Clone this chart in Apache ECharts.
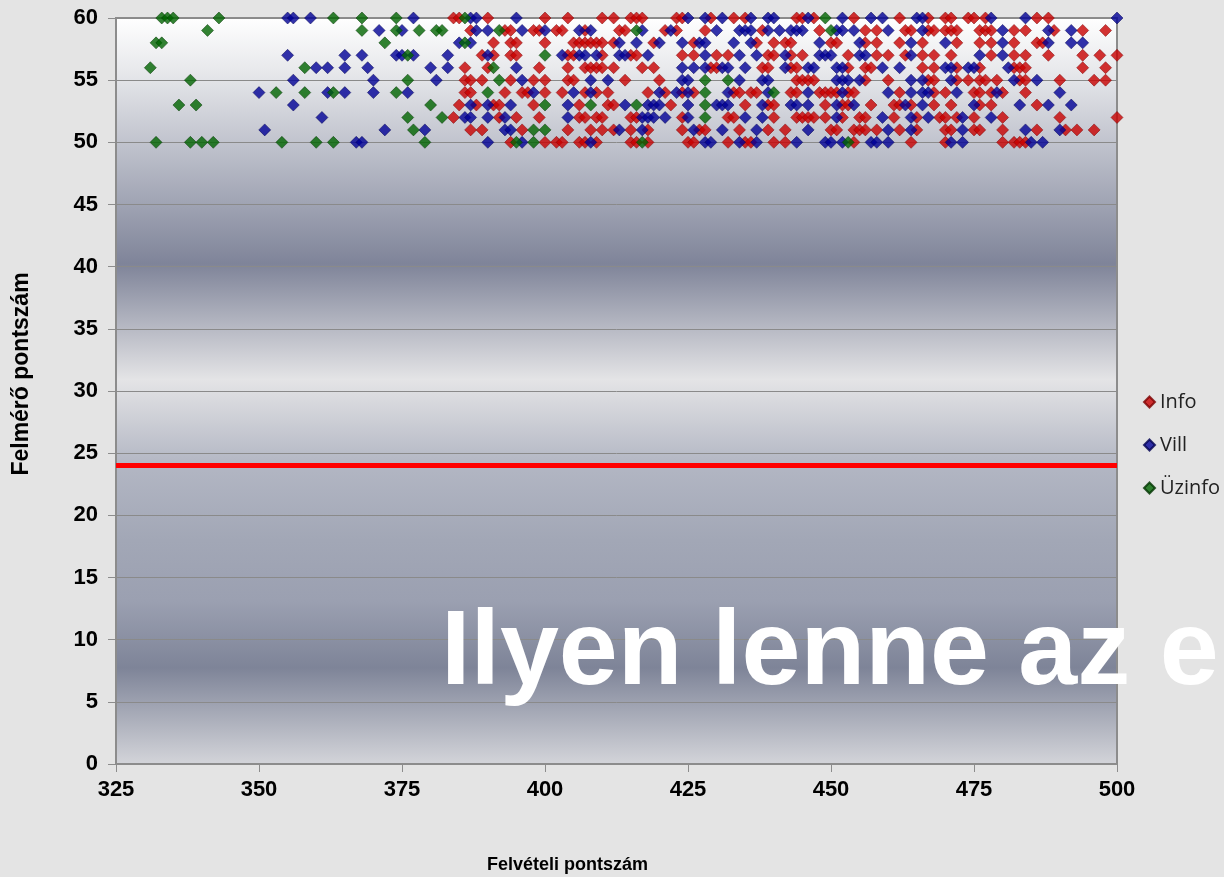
<!DOCTYPE html>
<html>
<head>
<meta charset="UTF-8">
<title>Felvételi vs felmérő pontszám</title>
<script src="https://cdn.jsdelivr.net/npm/echarts@6/dist/echarts.min.js"></script>
<style>
  html, body { margin: 0; padding: 0; background: #e4e4e4; }
  #chart { width: 1224px; height: 877px; }
</style>
</head>
<body>
<div id="chart"></div>
<script>
// adatok: [felvételi pontszám, felmérő pontszám]
var seriesNames = ['Info', 'Vill', 'Üzinfo'];
var xTicks = [325, 350, 375, 400, 425, 450, 475, 500];
var yTicks = [0, 5, 10, 15, 20, 25, 30, 35, 40, 45, 50, 55, 60];
var limitValue = 24;

// Info (piros) - soronként: [y, [x...]]
var infoRows = [
  [60, [384, 385, 390, 400, 404, 410, 412, 415, 416, 417, 423, 424, 429, 433, 435, 444, 445, 447, 454, 462, 467, 470, 471, 474, 475, 477, 486, 488]],
  [59, [387, 393, 394, 398, 399, 402, 403, 407, 413, 414, 421, 423, 428, 438, 448, 456, 458, 463, 464, 467, 468, 470, 471, 472, 476, 477, 478, 482, 484, 489, 494, 498]],
  [58, [391, 394, 395, 400, 405, 406, 407, 408, 409, 410, 412, 419, 426, 437, 440, 442, 443, 450, 451, 456, 458, 462, 466, 472, 476, 478, 482, 486, 487]],
  [57, [389, 391, 394, 395, 404, 405, 410, 415, 416, 424, 426, 430, 432, 439, 440, 443, 445, 453, 458, 460, 463, 466, 468, 471, 478, 482, 484, 488, 494, 497, 500]],
  [56, [386, 390, 399, 404, 407, 408, 409, 410, 412, 417, 419, 429, 430, 438, 439, 443, 444, 453, 456, 457, 466, 468, 472, 476, 482, 483, 484, 494, 498]],
  [55, [386, 387, 389, 394, 398, 400, 404, 405, 414, 420, 444, 445, 446, 447, 456, 460, 467, 468, 472, 474, 476, 477, 479, 483, 484, 490, 496, 498]],
  [54, [386, 387, 393, 396, 397, 400, 403, 407, 409, 411, 418, 421, 424, 426, 433, 434, 436, 437, 443, 444, 448, 449, 450, 451, 453, 454, 462, 468, 470, 475, 476, 478, 480, 484]],
  [53, [385, 388, 391, 392, 398, 406, 411, 412, 422, 435, 439, 440, 449, 452, 453, 457, 461, 462, 464, 468, 471, 476, 478, 486]],
  [52, [384, 392, 395, 399, 406, 407, 409, 410, 415, 416, 424, 432, 433, 440, 444, 445, 446, 447, 449, 452, 455, 456, 461, 465, 469, 470, 472, 475, 480, 490, 500]],
  [51, [387, 389, 396, 404, 408, 410, 412, 415, 418, 424, 427, 428, 434, 439, 442, 450, 451, 454, 455, 456, 458, 462, 465, 470, 471, 475, 476, 480, 486, 491, 493, 496]],
  [50, [394, 400, 402, 403, 406, 407, 409, 415, 416, 418, 425, 426, 432, 435, 436, 440, 442, 454, 464, 470, 480, 482, 483, 484]]
];

// Vill (kék)
var villRows = [
  [60, [355, 356, 359, 377, 387, 388, 395, 425, 428, 431, 436, 439, 440, 446, 452, 457, 459, 465, 466, 478, 484, 500]],
  [59, [371, 375, 388, 390, 396, 400, 406, 408, 417, 422, 430, 434, 435, 436, 439, 441, 443, 444, 445, 451, 452, 454, 460, 466, 480, 488, 492]],
  [58, [385, 387, 413, 416, 420, 424, 427, 428, 433, 436, 448, 455, 464, 470, 480, 488, 492, 494]],
  [57, [355, 365, 368, 374, 375, 377, 383, 390, 403, 406, 407, 409, 413, 414, 418, 428, 434, 437, 442, 448, 449, 450, 455, 456, 464, 476, 480]],
  [56, [360, 362, 365, 369, 380, 383, 395, 424, 426, 428, 431, 432, 435, 442, 446, 447, 451, 452, 459, 462, 470, 471, 474, 475, 481]],
  [55, [356, 370, 381, 396, 408, 411, 424, 425, 434, 438, 439, 451, 452, 453, 455, 464, 466, 471, 482, 486]],
  [54, [350, 362, 365, 370, 376, 398, 405, 408, 420, 423, 425, 432, 439, 446, 452, 460, 464, 466, 467, 472, 479, 490]],
  [53, [356, 387, 390, 394, 404, 414, 418, 419, 420, 425, 430, 431, 432, 438, 443, 444, 446, 451, 454, 463, 466, 475, 483, 488, 492]],
  [52, [361, 386, 387, 390, 393, 404, 417, 418, 419, 421, 425, 435, 438, 451, 459, 464, 467, 473, 478]],
  [51, [351, 372, 379, 393, 394, 413, 417, 426, 431, 437, 446, 460, 464, 473, 484, 490]],
  [50, [367, 368, 390, 396, 408, 428, 429, 434, 437, 444, 449, 450, 452, 457, 458, 460, 471, 473, 485, 487]]
];

// Üzinfo (zöld)
var uzinfoRows = [
  [60, [333, 334, 335, 343, 363, 368, 374, 386, 449]],
  [59, [341, 368, 374, 378, 381, 382, 392, 416, 450]],
  [58, [332, 333, 372, 386]],
  [57, [376, 400]],
  [56, [331, 358, 391]],
  [55, [338, 376, 392, 428, 432]],
  [54, [353, 358, 363, 374, 390, 428, 440]],
  [53, [336, 339, 380, 400, 408, 416, 428]],
  [52, [376, 382, 428]],
  [51, [377, 398, 400]],
  [50, [332, 338, 340, 342, 354, 360, 363, 379, 395, 398, 417, 453]]
];

function toPoints(rows) {
  var out = [];
  rows.forEach(function (r) {
    r[1].forEach(function (x) { out.push([x, r[0]]); });
  });
  return out;
}

var chart = echarts.init(document.getElementById('chart'), null, { renderer: 'canvas' });

var labelFont = { fontFamily: 'Liberation Sans, Arial, sans-serif', fontWeight: 'bold', fontSize: 22, color: '#000' };

var option = {
  animation: false,
  backgroundColor: '#e4e4e4',
  grid: {
    left: 116, right: 107, top: 18, bottom: 113,
    show: true,
    borderColor: '#8c8c8c',
    borderWidth: 2,
    backgroundColor: {
      type: 'linear', x: 0, y: 0, x2: 0, y2: 1,
      colorStops: [
        { offset: 0, color: '#ffffff' },
        { offset: 0.07, color: '#e8e9ec' },
        { offset: 0.18, color: '#bcbfca' },
        { offset: 0.33, color: '#7f8499' },
        { offset: 0.485, color: '#e4e4e6' },
        { offset: 0.6, color: '#b2b6c3' },
        { offset: 0.7, color: '#a2a7b6' },
        { offset: 0.78, color: '#9ba0b1' },
        { offset: 0.87, color: '#7e8498' },
        { offset: 1, color: '#d4d5da' }
      ]
    }
  },
  legend: {
    orient: 'vertical',
    left: 1138,
    top: 387,
    itemWidth: 11,
    itemHeight: 11,
    itemGap: 23,
    icon: 'diamond',
    textStyle: { fontFamily: 'Open Sans, Noto Sans, sans-serif', fontSize: 20, color: '#222' },
    data: seriesNames
  },
  xAxis: {
    type: 'value',
    min: 325, max: 500, interval: 25,
    axisLine: { show: true, lineStyle: { color: '#8c8c8c', width: 2 } },
    axisTick: { show: true, length: 8, lineStyle: { color: '#8c8c8c' } },
    axisLabel: Object.assign({ margin: 15 }, labelFont),
    splitLine: { show: false }
  },
  yAxis: {
    type: 'value',
    min: 0, max: 60, interval: 5,
    axisLine: { show: true, lineStyle: { color: '#8c8c8c', width: 2 } },
    axisTick: { show: true, length: 8, lineStyle: { color: '#8c8c8c' } },
    axisLabel: Object.assign({ margin: 18 }, labelFont),
    splitLine: { show: true, lineStyle: { color: '#8a8a8a', width: 1 } }
  },
  graphic: [
    {
      type: 'text', x: 487, y: 865, silent: true,
      style: { text: 'Felvételi pontszám', font: 'bold 18px "Liberation Sans", Arial, sans-serif', fill: '#000', verticalAlign: 'middle' }
    },
    {
      type: 'text', x: 22, y: 374, rotation: Math.PI / 2, silent: true,
      style: { text: 'Felmérő pontszám', font: 'bold 23px "Liberation Sans", Arial, sans-serif', fill: '#000', align: 'center', verticalAlign: 'middle' }
    },
    {
      type: 'text', x: 441, y: 655, z: 100, silent: true,
      style: {
        text: 'Ilyen lenne az eredmény',
        font: 'bold 106px "Liberation Sans", Arial, sans-serif',
        fill: '#ffffff',
        verticalAlign: 'middle',
        shadowColor: 'rgba(40,40,50,0.8)', shadowBlur: 6, shadowOffsetX: 5, shadowOffsetY: 5
      }
    }
  ],
  series: [
    {
      name: 'Info', type: 'scatter', symbol: 'diamond', symbolSize: [12, 12],
      itemStyle: { color: '#c80000', borderColor: '#7a0000', borderWidth: 0.6 },
      data: toPoints(infoRows),
      markLine: {
        silent: true, symbol: 'none', label: { show: false },
        lineStyle: { color: '#ff0000', width: 5, type: 'solid' },
        data: [{ yAxis: limitValue }]
      }
    },
    {
      name: 'Vill', type: 'scatter', symbol: 'diamond', symbolSize: [12, 12],
      itemStyle: { color: '#000096', borderColor: '#000050', borderWidth: 0.6 },
      data: toPoints(villRows)
    },
    {
      name: 'Üzinfo', type: 'scatter', symbol: 'diamond', symbolSize: [12, 12],
      itemStyle: { color: '#006400', borderColor: '#003300', borderWidth: 0.6 },
      data: toPoints(uzinfoRows)
    }
  ]
};
chart.setOption(option);
</script>
</body>
</html>
